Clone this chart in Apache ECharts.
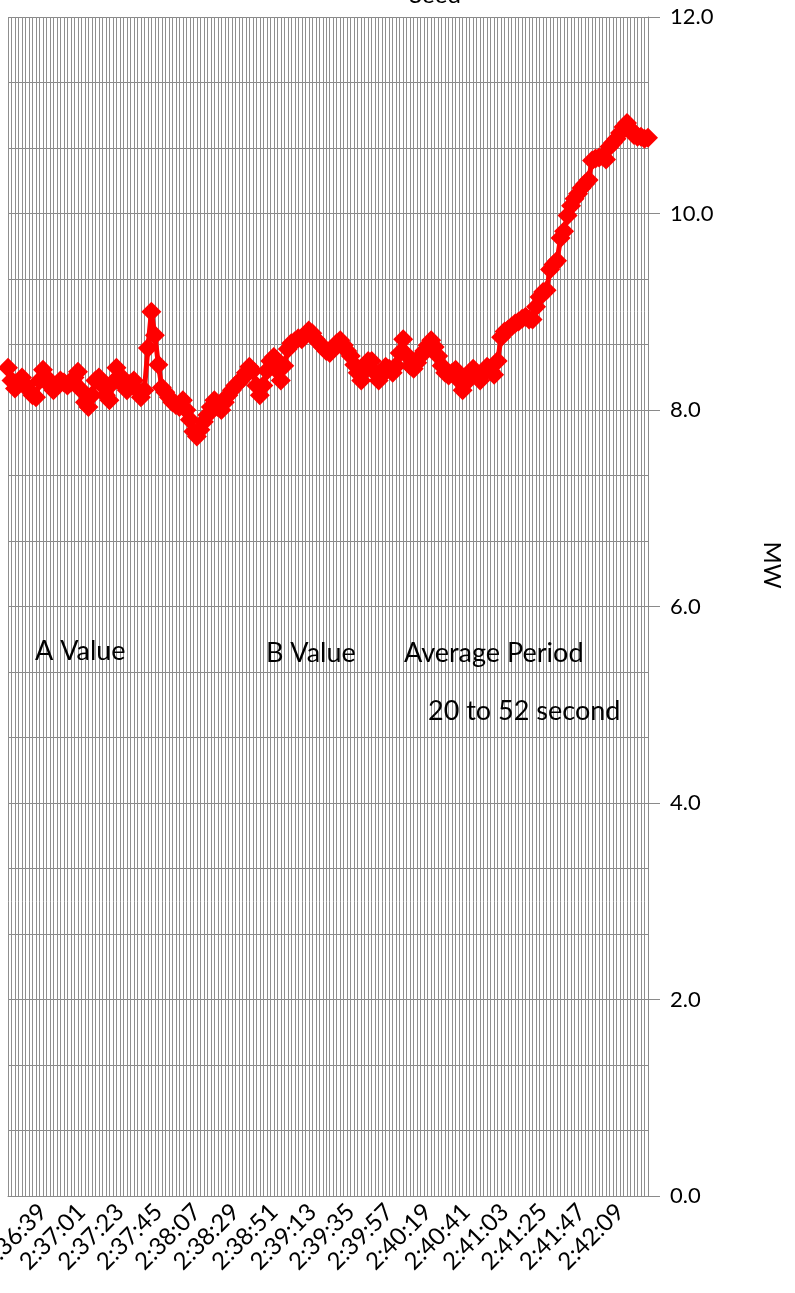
<!DOCTYPE html>
<html>
<head>
<meta charset="utf-8">
<script src="https://cdn.jsdelivr.net/npm/echarts@6/dist/echarts.min.js"></script>
<style>
  html, body { margin: 0; padding: 0; background: #fff; }
  #chart { width: 795px; height: 1293px; }
</style>
</head>
<body>
<div id="chart"></div>
<script>
// time axis: one sample every 2 seconds, labels every 22 seconds
var startTime = '2:36:19';
var stepSeconds = 2;
var labelEvery = 11;
var firstLabelIndex = 10;   // 2:36:39

// MW readings
var mwValues = [
    8.43, 8.30, 8.22, 8.28, 8.33, 8.25, 8.20, 8.15, 8.13, 8.30,
    8.41, 8.33, 8.25, 8.20, 8.26, 8.30, 8.28, 8.25, 8.28, 8.33,
    8.39, 8.20, 8.08, 8.03, 8.15, 8.30, 8.33, 8.25, 8.15, 8.10,
    8.28, 8.43, 8.35, 8.25, 8.20, 8.27, 8.30, 8.20, 8.13, 8.20,
    8.63, 9.00, 8.76, 8.46, 8.23, 8.18, 8.13, 8.08, 8.05, 8.03,
    8.10, 8.00, 7.90, 7.78, 7.73, 7.80, 7.88, 7.95, 8.03, 8.10,
    8.03, 8.00, 8.08, 8.15, 8.20, 8.25, 8.28, 8.32, 8.38, 8.44,
    8.40, 8.25, 8.15, 8.25, 8.40, 8.50, 8.54, 8.40, 8.30, 8.45,
    8.62, 8.68, 8.70, 8.73, 8.72, 8.76, 8.81, 8.78, 8.72, 8.68,
    8.64, 8.60, 8.58, 8.62, 8.68, 8.71, 8.66, 8.60, 8.55, 8.46,
    8.38, 8.30, 8.40, 8.50, 8.50, 8.38, 8.30, 8.36, 8.44, 8.42,
    8.38, 8.45, 8.58, 8.72, 8.56, 8.45, 8.42, 8.48, 8.55, 8.60,
    8.66, 8.71, 8.64, 8.55, 8.45, 8.38, 8.35, 8.38, 8.41, 8.30,
    8.20, 8.28, 8.38, 8.42, 8.35, 8.30, 8.38, 8.44, 8.40, 8.36,
    8.50, 8.74, 8.80, 8.82, 8.85, 8.88, 8.90, 8.93, 8.95, 8.92,
    8.92, 9.05, 9.15, 9.20, 9.22, 9.43, 9.48, 9.52, 9.75, 9.82,
    9.98, 10.08, 10.15, 10.20, 10.26, 10.30, 10.34, 10.54, 10.56, 10.57,
    10.58, 10.55, 10.68, 10.72, 10.76, 10.82, 10.88, 10.92, 10.86, 10.80,
    10.78, 10.78, 10.76, 10.77
];

var annotations = ['A Value', 'B Value', 'Average Period', '20 to 52 second'];

function buildTimes(start, step, count) {
    var p = start.split(':');
    var t = (+p[0]) * 3600 + (+p[1]) * 60 + (+p[2]);
    var out = [];
    for (var i = 0; i < count; i++) {
        var s = t + i * step;
        var h = Math.floor(s / 3600);
        var m = Math.floor((s % 3600) / 60);
        var sec = s % 60;
        out.push(h + ':' + (m < 10 ? '0' : '') + m + ':' + (sec < 10 ? '0' : '') + sec);
    }
    return out;
}
var times = buildTimes(startTime, stepSeconds, mwValues.length);

var FONT = 'Lato';
var gridColor = '#8a8a8a';

function label(text, x, y, size) {
    return {
        type: 'text', x: x, y: y, z: 10,
        style: {
            text: text, font: size + 'px Lato', fill: '#000',
            textAlign: 'left', textVerticalAlign: 'middle', align: 'left', verticalAlign: 'middle'
        }
    };
}

var chart = echarts.init(document.getElementById('chart'));
chart.setOption({
    animation: false,
    textStyle: { fontFamily: FONT },
    grid: { left: 8, right: 147, top: 17, bottom: 97, containLabel: false, outerBoundsMode: 'none' },
    xAxis: {
        type: 'category',
        data: times,
        boundaryGap: false,
        axisLine: { show: true, lineStyle: { color: gridColor, width: 1 } },
        axisTick: { show: false },
        axisLabel: {
            rotate: 45,
            fontSize: 24,
            fontFamily: FONT,
            color: '#000',
            margin: 12,
            interval: function (index) {
                return index >= firstLabelIndex && (index - firstLabelIndex) % labelEvery === 0;
            }
        },
        splitLine: { show: true, interval: 0, lineStyle: { color: '#8f8f8f', width: 1 } }
    },
    yAxis: [
        {
            // gridlines every 2/3 MW
            type: 'value',
            position: 'right',
            min: 0,
            max: 12,
            interval: 2 / 3,
            axisLine: { show: false },
            axisTick: { show: false },
            axisLabel: { show: false },
            splitLine: { show: true, lineStyle: { color: gridColor, width: 1 } }
        },
        {
            type: 'value',
            position: 'right',
            min: 0,
            max: 12,
            interval: 2,
            axisLine: { show: true, lineStyle: { color: gridColor, width: 1 } },
            axisTick: { show: true, inside: false, length: 12, lineStyle: { color: gridColor } },
            axisLabel: {
                fontSize: 22,
                fontFamily: FONT,
                color: '#000',
                margin: 22,
                formatter: function (v) { return v.toFixed(1); }
            },
            splitLine: { show: false }
        }
    ],
    series: [
        {
            name: 'MW',
            type: 'line',
            yAxisIndex: 0,
            data: mwValues,
            symbol: 'diamond',
            symbolSize: 20,
            showAllSymbol: true,
            lineStyle: { color: '#ff0000', width: 5 },
            itemStyle: { color: '#ff0000' }
        }
    ],
    graphic: [
        { type: 'text', x: 435, y: 7, style: { text: 'Seed', font: '24px Lato', fill: '#000', textAlign: 'center', textVerticalAlign: 'bottom', align: 'center', verticalAlign: 'bottom' } },
        { type: 'text', x: 772, y: 565, rotation: -Math.PI / 2, style: { text: 'MW', font: '24px Lato', fill: '#000', textAlign: 'center', textVerticalAlign: 'middle', align: 'center', verticalAlign: 'middle' } },
        label(annotations[0], 35, 651, 27),
        label(annotations[1], 266, 653, 27),
        label(annotations[2], 404, 653, 27),
        label(annotations[3], 428, 711, 27)
    ]
});
</script>
</body>
</html>
